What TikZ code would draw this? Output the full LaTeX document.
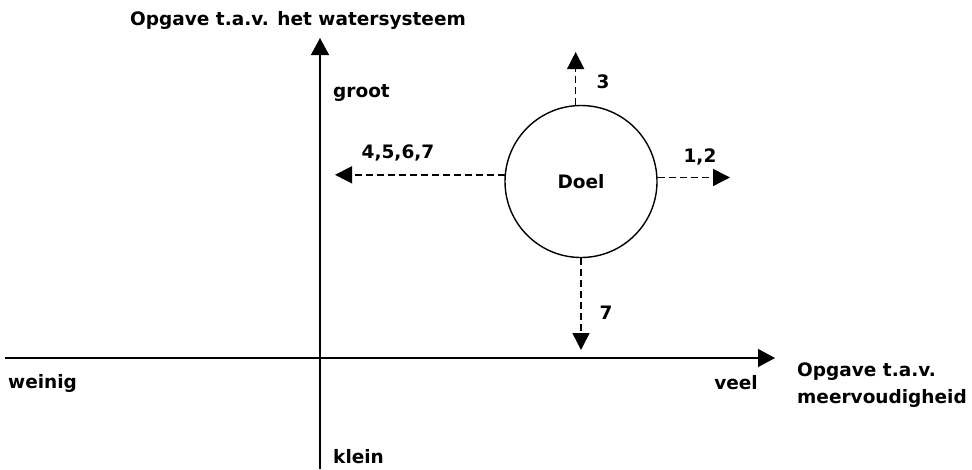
\documentclass[tikz,border=0pt]{standalone}
\usepackage{fontspec}
\setmainfont{DejaVu Sans}
\usetikzlibrary{arrows.meta}
\begin{document}
\begin{tikzpicture}[x=1pt,y=-1pt,
  lbl/.style={font=\bfseries\fontsize{18.5}{27}\selectfont, inner sep=0pt},
  axis/.style={line width=1.4pt, -{Triangle[length=17pt,width=18pt]}},
  dsh/.style={line width=1.5pt, dash pattern=on 7pt off 4pt, -{Triangle[length=17pt,width=17pt]}}]
\useasboundingbox (0,0) rectangle (972,469);
% axes
\coordinate (vb) at (320,469);
\coordinate (vt) at (320,38);
\coordinate (hl) at (5,358);
\coordinate (hr) at (775,358);
\draw[axis] (vb) -- (vt);
\draw[axis] (hl) -- (hr);
% axis labels
\node[lbl] (ytitle) at (298,20) {Opgave t.a.v. het watersysteem};
\node[lbl, anchor=west] (groot) at (333,93) {groot};
\node[lbl, anchor=west] (klein) at (333,457) {klein};
\node[lbl, anchor=west] (weinig) at (8,383) {weinig};
\node[lbl, anchor=east] (veel) at (758,383) {veel};
\node[lbl, anchor=west, align=left] (xtitle) at (797,385) {Opgave t.a.v.\\meervoudigheid};
% goal
\node[draw, circle, line width=1.4pt, minimum size=152pt, inner sep=0pt, lbl] (d) at (581,181.5) {Doel};
\coordinate (t3) at (576,52);
\coordinate (tl) at (335,175);
\coordinate (tr) at (730,177);
\coordinate (t7) at (580,350);
\draw[dsh] (d.94) -- (d.94 |- t3);
\draw[dsh] (d.175.5) -- (d.175.5 -| tl);
\draw[dsh] (d.3.4) -- (d.3.4 -| tr);
\draw[dsh] (d.270.7) -- (d.270.7 |- t7);
\node[lbl] (l3) at (603,82) {3};
\node[lbl] (l4) at (398,153) {4,5,6,7};
\node[lbl] (l12) at (700,157) {1,2};
\node[lbl] (l7) at (606,313) {7};
\end{tikzpicture}
\end{document}
